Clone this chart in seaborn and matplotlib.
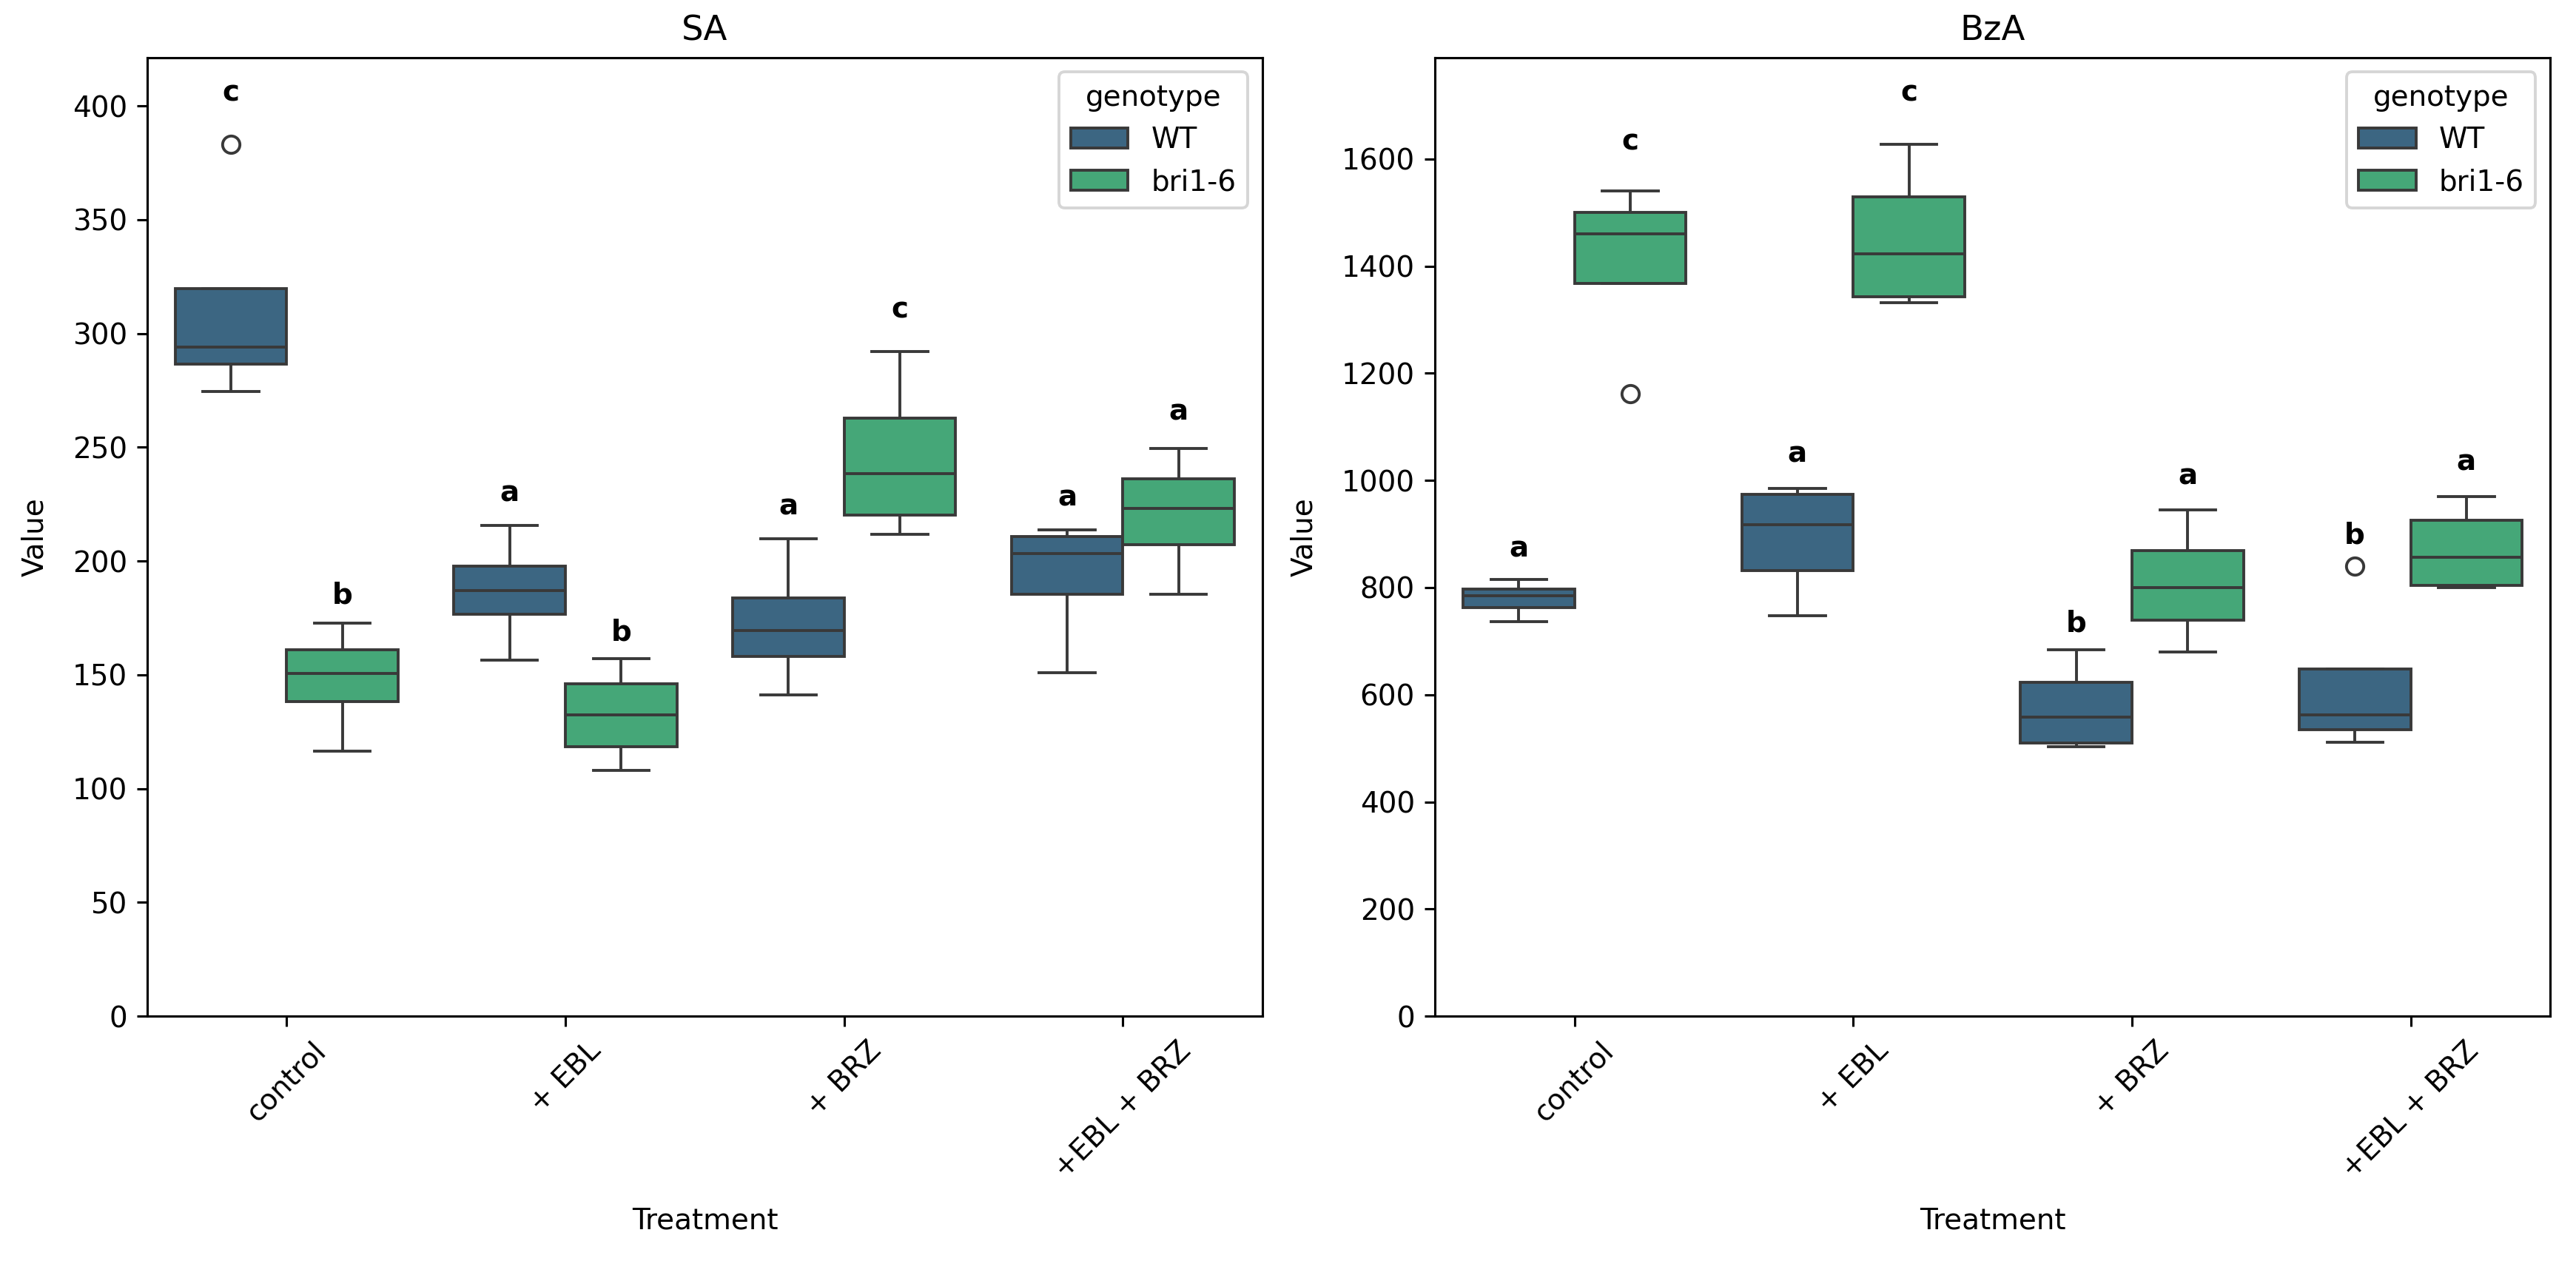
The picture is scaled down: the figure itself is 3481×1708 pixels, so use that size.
import numpy as np
import pandas as pd
import matplotlib
matplotlib.use("Agg")
import matplotlib.pyplot as plt
import seaborn as sns

# ==========================================
# DATA
# ==========================================
TREATMENTS = ["control", "+ EBL", "+ BRZ", "+EBL + BRZ"]
GENOTYPES = ["WT", "bri1-6"]

# five replicates per treatment, in TREATMENTS order
SA_WT = [
    [274.4, 286.6, 294.0, 319.6, 383.0],
    [156.4, 176.7, 187.1, 197.6, 215.5],
    [141.1, 158.1, 169.4, 183.8, 209.9],
    [150.8, 185.3, 203.2, 210.6, 213.6],
]
SA_BRI = [
    [116.4, 138.1, 150.6, 161.0, 172.6],
    [107.9, 118.3, 132.5, 146.0, 157.2],
    [211.8, 220.1, 238.4, 262.7, 292.2],
    [185.4, 207.1, 223.1, 236.2, 249.6],
]
BZA_WT = [
    [736.1, 763.2, 784.4, 796.7, 815.8],
    [747.4, 832.2, 917.0, 973.8, 985.0],
    [503.2, 509.2, 558.5, 623.8, 683.7],
    [511.0, 534.6, 563.0, 648.2, 840.0],
]
BZA_BRI = [
    [1162.4, 1367.7, 1459.7, 1500.0, 1539.8],
    [1331.3, 1343.2, 1423.2, 1528.7, 1627.0],
    [679.6, 739.4, 800.0, 869.0, 945.2],
    [800.0, 804.0, 856.4, 925.4, 969.8],
]

# significance letters, per genotype, in TREATMENTS order
SA_LETTERS = {"WT": ["c", "a", "a", "a"], "bri1-6": ["b", "b", "c", "a"]}
BZA_LETTERS = {"WT": ["a", "a", "b", "b"], "bri1-6": ["c", "c", "a", "a"]}


def to_long(wt, bri):
    rows = []
    for geno, groups in zip(GENOTYPES, [wt, bri]):
        for treat, vals in zip(TREATMENTS, groups):
            for v in vals:
                rows.append({"Treatment": treat, "genotype": geno, "Value": v})
    return pd.DataFrame(rows)


def draw_panel(ax, df, letters, title):
    sns.boxplot(data=df, x="Treatment", y="Value", hue="genotype",
                order=TREATMENTS, hue_order=GENOTYPES,
                palette="viridis", ax=ax)
    offsets = {"WT": -0.2, "bri1-6": 0.2}
    for geno in GENOTYPES:
        for i, treat in enumerate(TREATMENTS):
            top = df[(df.Treatment == treat) & (df.genotype == geno)]["Value"].max()
            ax.text(i + offsets[geno], top * 1.05, letters[geno][i],
                    ha="center", fontweight="bold", fontsize=10)
    ax.set_ylim(0, df["Value"].max() * 1.1)
    ax.set_title(title, fontsize=12)
    ax.set_xlabel("Treatment", labelpad=8)
    ax.set_ylabel("Value", labelpad=8)
    ax.tick_params(axis="x", rotation=45)
    sns.move_legend(ax, "upper right", title="genotype")


DPI = 280
fig, axes = plt.subplots(1, 2, figsize=(3481 / DPI, 1708 / DPI), dpi=DPI)
draw_panel(axes[0], to_long(SA_WT, SA_BRI), SA_LETTERS, "SA")
draw_panel(axes[1], to_long(BZA_WT, BZA_BRI), BZA_LETTERS, "BzA")

fig.subplots_adjust(left=0.0572, right=0.9899, top=0.9546, bottom=0.1961, wspace=0.155)
fig.savefig("out.png", dpi=DPI)
